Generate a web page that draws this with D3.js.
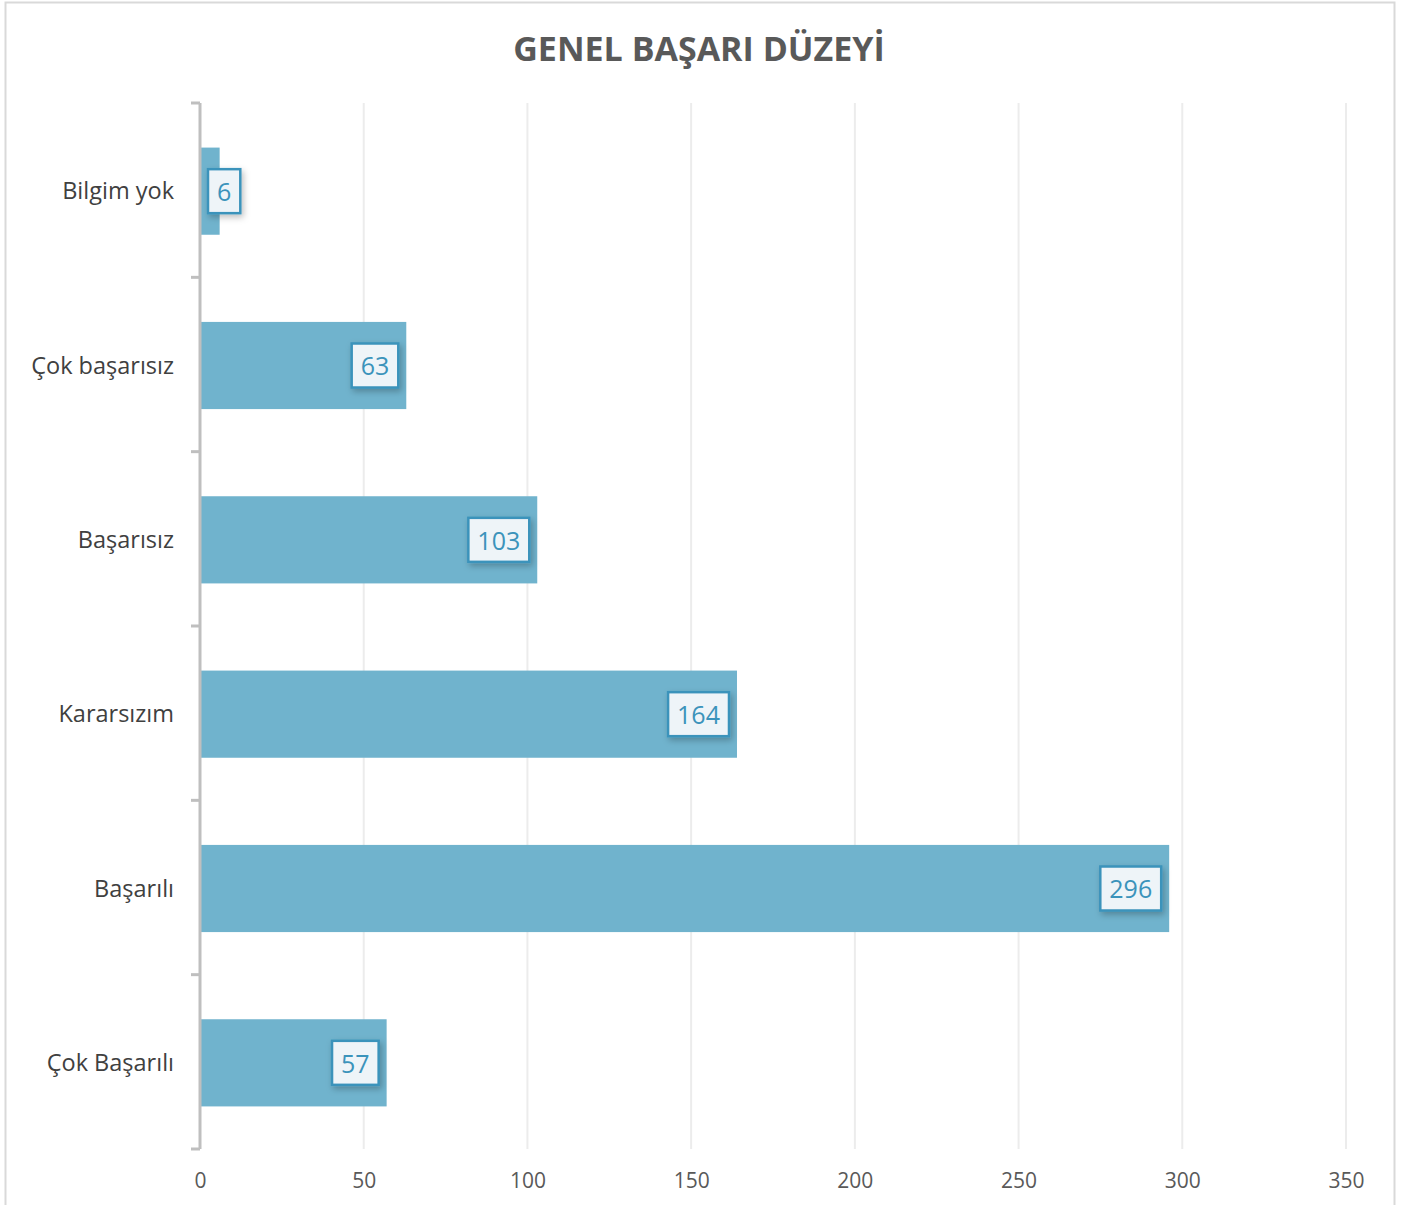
<!DOCTYPE html>
<html>
<head>
<meta charset="utf-8">
<script src="https://cdn.jsdelivr.net/npm/d3@7"></script>
<style>
  body { margin: 0; background: #fff; }
  text { font-family: "Open Sans", "Noto Sans", sans-serif; }
</style>
</head>
<body>
<div id="chart-area"></div>
<script>
var categories = ["Bilgim yok", "Çok başarısız", "Başarısız", "Kararsızım", "Başarılı", "Çok Başarılı"];
var values = [6, 63, 103, 164, 296, 57];
var xTicks = [0, 50, 100, 150, 200, 250, 300, 350];
var title = "GENEL BAŞARI DÜZEYİ";

var W = 1413, H = 1205;
var margin = {top: 103, left: 200, right: 1413 - 1346, bottom: 1205 - 1149};
var width = W - margin.left - margin.right;
var height = H - margin.top - margin.bottom;

var svg = d3.select("#chart-area").append("svg")
  .attr("width", W)
  .attr("height", H);

// shadow for data labels
var defs = svg.append("defs");
var f = defs.append("filter").attr("id", "shadow")
  .attr("x", "-40%").attr("y", "-40%").attr("width", "180%").attr("height", "180%");
f.append("feDropShadow")
  .attr("dx", 2).attr("dy", 3).attr("stdDeviation", 3)
  .attr("flood-color", "#000").attr("flood-opacity", 0.25);

// chart frame
svg.append("rect")
  .attr("x", 5.5).attr("y", 2.5)
  .attr("width", 1389).attr("height", 1220)
  .attr("fill", "white")
  .attr("stroke", "#d9d9d9")
  .attr("stroke-width", 2);

svg.append("text")
  .attr("x", 699)
  .attr("y", 61)
  .attr("text-anchor", "middle")
  .attr("font-size", "34px")
  .attr("font-weight", "bold")
  .style("fill", "#595959")
  .text(title);

var g = svg.append("g")
  .attr("transform", "translate(" + margin.left + ", " + margin.top + ")");

var x = d3.scaleLinear()
  .domain([0, 350])
  .range([0, width]);

var y = d3.scaleBand()
  .domain(categories)
  .range([0, height])
  .paddingInner(0.5)
  .paddingOuter(0.25);

// gridlines
g.selectAll(".grid").data(xTicks.slice(1)).enter()
  .append("line")
  .attr("class", "grid")
  .attr("x1", function(d){ return x(d); })
  .attr("x2", function(d){ return x(d); })
  .attr("y1", 0).attr("y2", height)
  .attr("stroke", "#ececec")
  .attr("stroke-width", 2);

// x axis labels
var bottomAxis = d3.axisBottom(x).tickValues(xTicks).tickSize(0).tickPadding(24);
var xa = g.append("g")
  .attr("class", "bottom axis")
  .attr("transform", "translate(0, " + height + ")")
  .call(bottomAxis);
xa.select(".domain").remove();
xa.selectAll("text")
  .attr("font-size", "21px")
  .style("fill", "#595959")
  .style("font-family", "'Open Sans', 'Noto Sans', sans-serif");

// bars
g.selectAll(".bar").data(values).enter()
  .append("rect")
  .attr("class", "bar")
  .attr("x", x(0))
  .attr("y", function(d, i){ return y(categories[i]) + 1; })
  .attr("width", function(d){ return x(d) - x(0); })
  .attr("height", y.bandwidth())
  .attr("fill", "#70b3cd");

// y axis line + ticks between categories
var boundaries = d3.range(categories.length + 1).map(function(i){ return i * height / categories.length; });
g.append("line")
  .attr("x1", 0).attr("x2", 0)
  .attr("y1", 0).attr("y2", height)
  .attr("stroke", "#bfbfbf")
  .attr("stroke-width", 3);
g.selectAll(".ytick").data(boundaries).enter()
  .append("line")
  .attr("x1", -9).attr("x2", 0)
  .attr("y1", function(d){ return d; })
  .attr("y2", function(d){ return d; })
  .attr("stroke", "#bfbfbf")
  .attr("stroke-width", 3);

// category labels
g.selectAll(".cat").data(categories).enter()
  .append("text")
  .attr("x", -26)
  .attr("y", function(d){ return y(d) + y.bandwidth() / 2 + 1; })
  .attr("dy", "0.35em")
  .attr("text-anchor", "end")
  .attr("font-size", "23.5px")
  .style("fill", "#404040")
  .text(function(d){ return d; });

// data labels
var labels = g.selectAll(".lbl").data(values).enter()
  .append("g")
  .attr("class", "lbl");

labels.each(function(d, i) {
  var lg = d3.select(this);
  var t = lg.append("text")
    .attr("font-size", "25px")
    .attr("text-anchor", "middle")
    .attr("dy", "0.35em")
    .style("fill", "#3b93bb")
    .text(d);
  var tw = t.node().getComputedTextLength();
  var bw = tw + 18, bh = 44;
  var right = Math.max(x(d) - 8, x(0) + 8 + bw);
  var cx = right - bw / 2;
  var cy = y(categories[i]) + y.bandwidth() / 2 + 1;
  lg.insert("rect", "text")
    .attr("x", cx - bw / 2)
    .attr("y", cy - bh / 2)
    .attr("width", bw)
    .attr("height", bh)
    .attr("fill", "#eef4f8")
    .attr("stroke", "#3b93bb")
    .attr("stroke-width", 2.5)
    .attr("filter", "url(#shadow)");
  t.attr("x", cx).attr("y", cy + 1);
});
</script>
</body>
</html>
